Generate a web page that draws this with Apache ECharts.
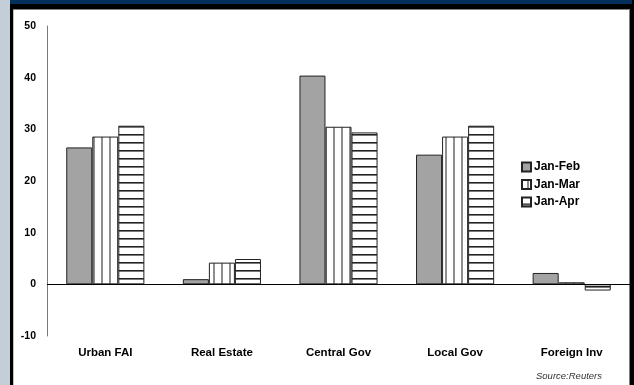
<!DOCTYPE html>
<html>
<head>
<meta charset="utf-8">
<script src="https://cdn.jsdelivr.net/npm/echarts@6/dist/echarts.min.js"></script>
<style>
  html, body { margin: 0; padding: 0; background: #c3ced8; }
  #chart { width: 634px; height: 385px; }
</style>
</head>
<body>
<div id="chart"></div>
<script>
// Investment growth, year-to-date, percent
const categories = ['Urban FAI', 'Real Estate', 'Central Gov', 'Local Gov', 'Foreign Inv'];
const seriesNames = ['Jan-Feb', 'Jan-Mar', 'Jan-Apr'];
const janFeb = [26.5, 1.0, 40.4, 25.1, 2.2];
const janMar = [28.6, 4.2, 30.5, 28.6, 0.4];
const janApr = [30.7, 4.9, 29.4, 30.7, -1.2];
const yTicks = { min: -10, max: 50, step: 10 };
const sourceNote = 'Source:Reuters';

// Hatch fills drawn on small tiles
function vStripes() {
  const c = document.createElement('canvas');
  c.width = 8; c.height = 8;
  const g = c.getContext('2d');
  g.fillStyle = '#ffffff'; g.fillRect(0, 0, 8, 8);
  g.fillStyle = '#8e8e8e'; g.fillRect(5, 0, 2, 8);
  return { image: c, repeat: 'repeat' };
}
function hStripes() {
  const c = document.createElement('canvas');
  c.width = 8; c.height = 8;
  const g = c.getContext('2d');
  g.fillStyle = '#ffffff'; g.fillRect(0, 0, 8, 8);
  g.fillStyle = '#222222'; g.fillRect(0, 6, 8, 1.6);
  return { image: c, repeat: 'repeat' };
}

const fills = ['#a3a3a3', vStripes(), hStripes()];
const values = [janFeb, janMar, janApr];

const chart = echarts.init(document.getElementById('chart'), null, { renderer: 'canvas' });

const font = '"Liberation Sans", Arial, sans-serif';

chart.setOption({
  animation: false,
  backgroundColor: 'transparent',
  graphic: [
    { type: 'rect', z: -5, shape: { x: 0, y: 0, width: 634, height: 385 }, style: { fill: '#c3ced8' } },
    { type: 'rect', z: -4, shape: { x: 10, y: 0, width: 624, height: 385 }, style: { fill: '#000000' } },
    { type: 'rect', z: -3, shape: { x: 10, y: 0, width: 622, height: 4 }, style: { fill: '#03305b' } },
    { type: 'rect', z: -2, shape: { x: 13, y: 9, width: 617, height: 376 }, style: { fill: '#808080' } },
    { type: 'rect', z: -1, shape: { x: 13.5, y: 10, width: 615.5, height: 375 }, style: { fill: '#ffffff' } },
    {
      type: 'text', right: 32, top: 371,
      style: { text: sourceNote, font: 'italic 9.5px ' + font, fill: '#333333' }
    }
  ],
  grid: { left: 47, right: 4, top: 26, bottom: 49, outerBoundsMode: 'none' },
  legend: {
    orient: 'vertical',
    left: 516,
    top: 156,
    itemWidth: 9,
    itemHeight: 9,
    itemGap: 5.5,
    icon: 'rect',
    data: seriesNames,
    textStyle: { fontFamily: font, fontWeight: 'bold', fontSize: 12, color: '#000', padding: [0, 0, 0, -2] }
  },
  xAxis: {
    type: 'category',
    data: categories,
    position: 'bottom',
    axisLine: { show: false, onZero: false },
    axisTick: { show: false },
    axisLabel: { margin: 11, fontFamily: font, fontWeight: 'bold', fontSize: 11.5, color: '#000' },
    splitLine: { show: false }
  },
  yAxis: {
    type: 'value',
    min: yTicks.min,
    max: yTicks.max,
    interval: yTicks.step,
    axisLine: { show: true, lineStyle: { color: '#7a7a7a', width: 1 } },
    axisTick: { show: false },
    splitLine: { show: false },
    axisLabel: { margin: 11, fontFamily: font, fontWeight: 'bold', fontSize: 10.5, color: '#000' }
  },
  series: seriesNames.map((name, i) => ({
    name: name,
    type: 'bar',
    data: values[i],
    barGap: '0%',
    barCategoryGap: '33%',
    itemStyle: { color: fills[i], borderColor: '#222222', borderWidth: 1 },
    emphasis: { disabled: true },
    // zero baseline across the plot
    markLine: i === 0 ? {
      silent: true,
      symbol: ['none', 'none'],
      label: { show: false },
      lineStyle: { color: '#000', width: 1, type: 'solid' },
      data: [{ yAxis: 0 }]
    } : undefined
  }))
});
</script>
</body>
</html>
